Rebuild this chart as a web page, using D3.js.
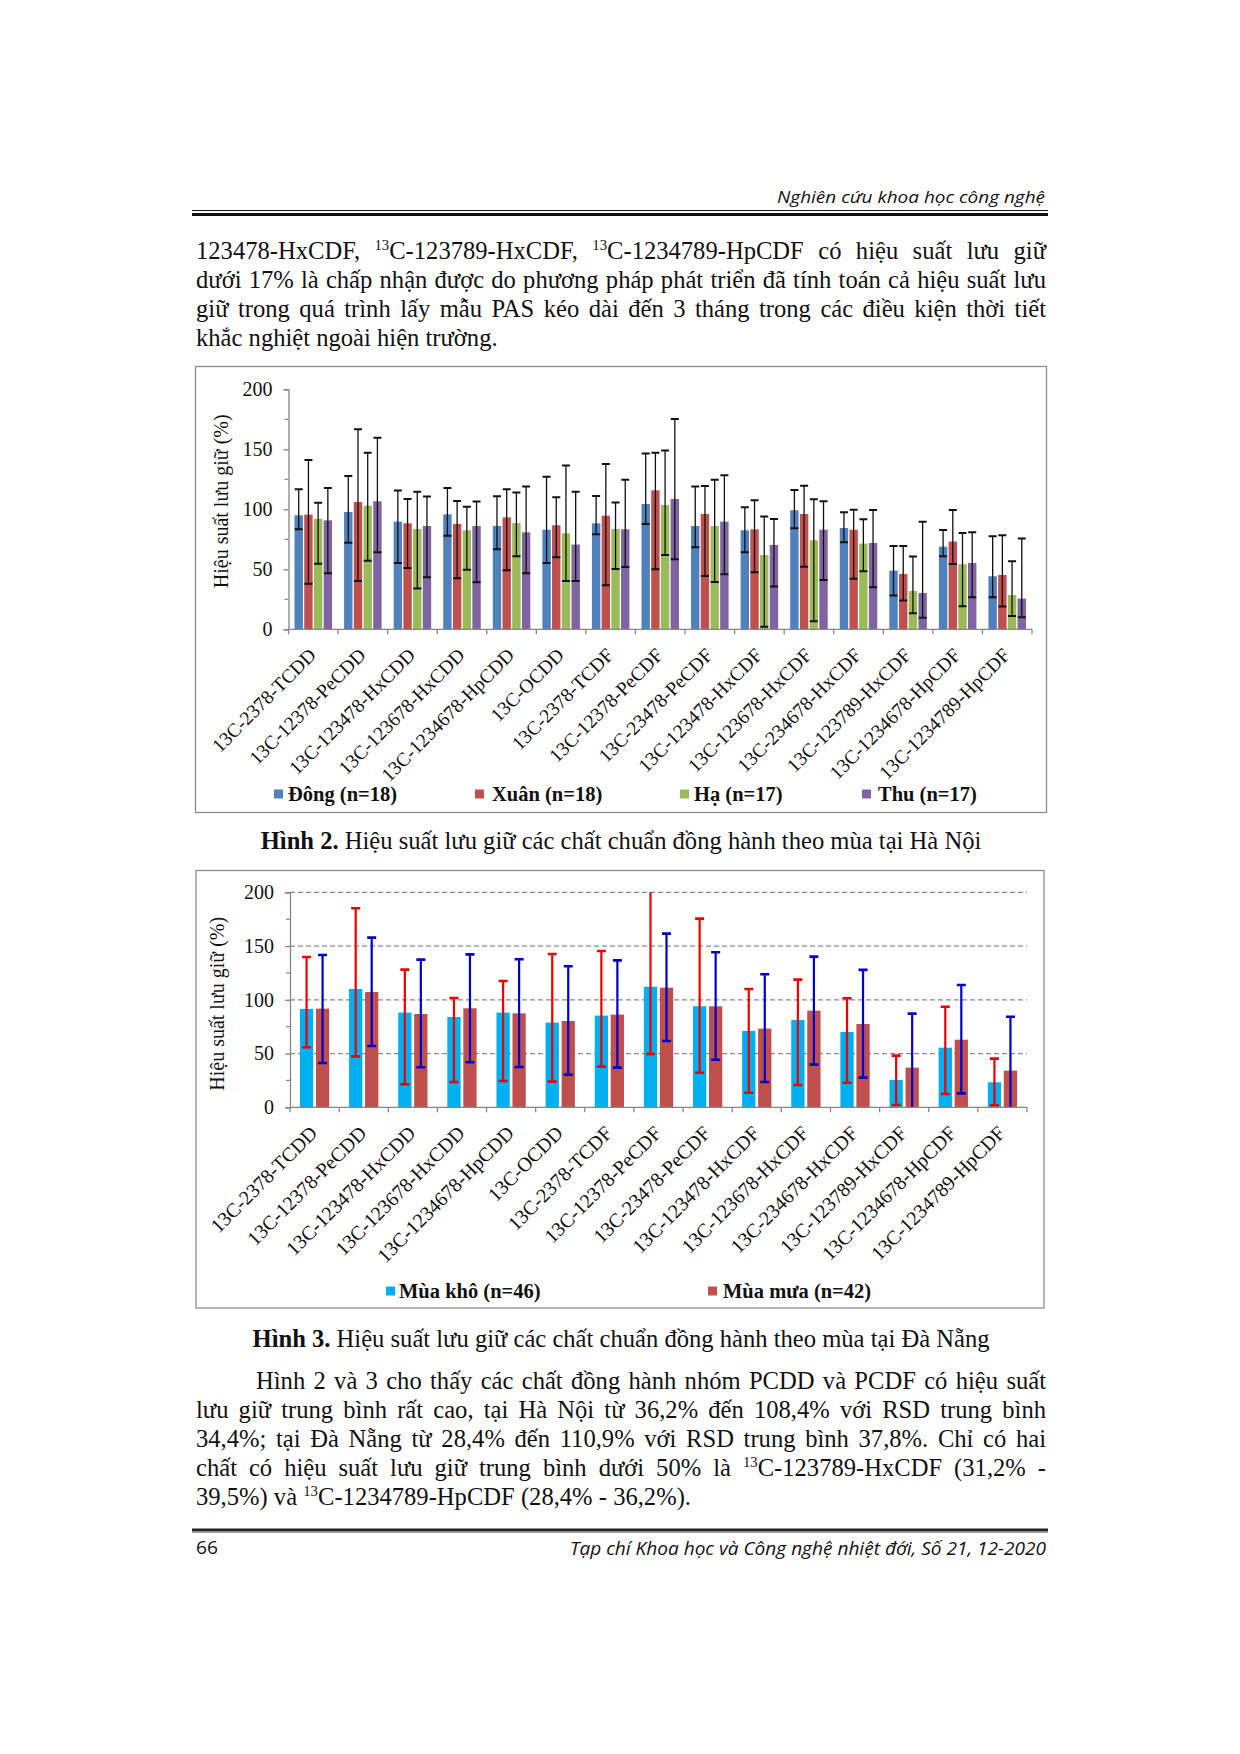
<!DOCTYPE html>
<html><head><meta charset="utf-8">
<script src="https://cdn.jsdelivr.net/npm/d3@7"></script>
<style>body{margin:0;background:#fff}svg{display:block}</style>
</head><body>
<svg id="page" width="1240" height="1754"></svg>
<script>
// ---------------- DATA ----------------
const categories = ["13C-2378-TCDD","13C-12378-PeCDD","13C-123478-HxCDD","13C-123678-HxCDD","13C-1234678-HpCDD","13C-OCDD","13C-2378-TCDF","13C-12378-PeCDF","13C-23478-PeCDF","13C-123478-HxCDF","13C-123678-HxCDF","13C-234678-HxCDF","13C-123789-HxCDF","13C-1234678-HpCDF","13C-1234789-HpCDF"];
const yTicks = [0, 50, 100, 150, 200];
const yMinorTicks = [25, 75, 125, 175];

// Hình 2 – Hà Nội (four seasons)
const seasonNames = ["Đông (n=18)", "Xuân (n=18)", "Hạ (n=17)", "Thu (n=17)"];
const dong     = [95, 97.8, 89.7, 95.8, 86.1, 83, 88.3, 104.4, 86.1, 82.5, 99.2, 84.4, 48.9, 68.9, 44.2];
const dongHigh = [116.7, 127.8, 115.6, 117.8, 110.8, 127.2, 111.1, 146.4, 118.9, 101.7, 116.1, 97.5, 69.4, 82.8, 77.5];
const dongLow  = [83.3, 72.2, 55.3, 78, 66.7, 55.3, 79.2, 87.8, 68.3, 64.2, 84.2, 72.5, 28.1, 60.8, 26.7];
const xuan     = [95.6, 106.1, 88.3, 87.8, 93.3, 86.7, 94.7, 115.8, 96.1, 83.3, 96.1, 83, 46.1, 73.1, 45.3];
const xuanHigh = [141, 166.7, 108.6, 107, 116.7, 110, 137.8, 147.2, 119.4, 107.5, 119.7, 99.7, 69.4, 99.4, 78.3];
const xuanLow  = [38, 40.3, 51.1, 42.5, 49.2, 60, 36.7, 50, 44.4, 47.5, 52.2, 42.2, 23.9, 54.4, 18.9];
const ha       = [92, 103, 83.6, 82.5, 88.6, 80, 83.6, 103.6, 86.1, 61.9, 74.2, 71.4, 31.9, 54.2, 28.6];
const haHigh   = [105.5, 147.2, 114.7, 102.2, 113.9, 136.4, 105.6, 148.9, 124.7, 93.9, 108.3, 91.7, 60.6, 80.3, 56.7];
const haLow    = [54.7, 57.2, 33.9, 49.7, 60.8, 40.3, 50.3, 61.9, 39.4, 2.2, 6.7, 48.3, 13.3, 19.2, 11.1];
const thu      = [90.8, 106.7, 86.1, 86.1, 80.8, 70.6, 83.3, 108.6, 89.7, 70.3, 83, 71.9, 30.3, 55.3, 25.6];
const thuHigh  = [117.8, 159.7, 110.6, 106.4, 118.9, 114.7, 124.7, 175.3, 128.3, 91.9, 106.7, 99.4, 89.7, 80.8, 75.6];
const thuLow   = [46.7, 64.2, 43.3, 39.2, 46.7, 40.3, 52, 58.3, 45.8, 35.6, 41.1, 35, 9.7, 26.7, 10];

// Hình 3 – Đà Nẵng (dry / rainy season)
const dnNames = ["Mùa khô (n=46)", "Mùa mưa (n=42)"];
const kho     = [91.5, 110.1, 88.1, 84, 88.1, 78.8, 85.3, 112.2, 94, 71, 81.2, 70.1, 25.4, 55.5, 23.3];
const khoHigh = [139.8, 185.1, 128.1, 101.7, 117.5, 142.6, 145.4, 212, 175.5, 110.1, 118.8, 101.4, 48.1, 93.6, 45.3];
const khoLow  = [55.8, 47.4, 21.4, 23.6, 24.5, 23.9, 37.8, 49.6, 32.2, 13.6, 20.8, 22.9, 2.2, 12.4, 1.9];
const mua     = [91.8, 107.3, 86.8, 92.1, 87.4, 80.3, 86.2, 111.3, 94, 73.2, 89.9, 77.5, 36.9, 62.9, 34.1];
const muaHigh = [141.7, 157.8, 137.4, 142.3, 137.7, 131.2, 136.7, 161.6, 144.2, 123.7, 140.2, 127.8, 87.1, 113.8, 84.3];
const muaLow  = [41.2, 57, 37.2, 41.9, 37.5, 30.4, 36.9, 61.7, 44.3, 23.6, 39.7, 27.6, -13, 13, -16];

// Text
const headerText = "Nghiên cứu khoa học công nghệ";
const footerLeft = "66";
const footerRight = "Tạp chí Khoa học và Công nghệ nhiệt đới, Số 21, 12-2020";
const yTitle = "Hiệu suất lưu giữ (%)";
const para1 = [
  "123478-HxCDF, ^13^C-123789-HxCDF, ^13^C-1234789-HpCDF có hiệu suất lưu giữ",
  "dưới 17% là chấp nhận được do phương pháp phát triển đã tính toán cả hiệu suất lưu",
  "giữ trong quá trình lấy mẫu PAS kéo dài đến 3 tháng trong các điều kiện thời tiết",
  "khắc nghiệt ngoài hiện trường."
];
const caption2 = ["Hình 2.", " Hiệu suất lưu giữ các chất chuẩn đồng hành theo mùa tại Hà Nội"];
const caption3 = ["Hình 3.", " Hiệu suất lưu giữ các chất chuẩn đồng hành theo mùa tại Đà Nẵng"];
const para2 = [
  "Hình 2 và 3 cho thấy các chất đồng hành nhóm PCDD và PCDF có hiệu suất",
  "lưu giữ trung bình rất cao, tại Hà Nội từ 36,2% đến 108,4% với RSD trung bình",
  "34,4%; tại Đà Nẵng từ 28,4% đến 110,9% với RSD trung bình 37,8%. Chỉ có hai",
  "chất có hiệu suất lưu giữ trung bình dưới 50% là ^13^C-123789-HxCDF (31,2% -",
  "39,5%) và ^13^C-1234789-HpCDF (28,4% - 36,2%)."
];

// ---------------- DRAW ----------------
const SERIF = "'Liberation Serif','Times New Roman',serif";
const svg = d3.select("#page");
svg.append("rect").attr("width", 1240).attr("height", 1754).attr("fill", "#fff");

// header
svg.append("text").attr("x", 1045).attr("y", 203).attr("text-anchor", "end")
  .attr("font-family", "'Open Sans',sans-serif").attr("font-style", "italic").attr("font-size", 17)
  .attr("textLength", 268).attr("lengthAdjust", "spacingAndGlyphs").attr("fill", "#111").text(headerText);
svg.append("line").attr("x1", 192).attr("x2", 1048).attr("y1", 210.5).attr("y2", 210.5).attr("stroke", "#111").attr("stroke-width", 1.2);
svg.append("line").attr("x1", 192).attr("x2", 1048).attr("y1", 214.5).attr("y2", 214.5).attr("stroke", "#111").attr("stroke-width", 3);

// footer
svg.append("line").attr("x1", 192).attr("x2", 1048).attr("y1", 1530).attr("y2", 1530).attr("stroke", "#222").attr("stroke-width", 3);
svg.append("line").attr("x1", 192).attr("x2", 1048).attr("y1", 1532.5).attr("y2", 1532.5).attr("stroke", "#999").attr("stroke-width", 1);
svg.append("text").attr("x", 196).attr("y", 1554).attr("font-family", "'Open Sans',sans-serif")
  .attr("font-size", 18).attr("fill", "#111").attr("textLength", 22).attr("lengthAdjust", "spacingAndGlyphs").text(footerLeft);
svg.append("text").attr("x", 1046).attr("y", 1555).attr("text-anchor", "end").attr("font-family", "'Open Sans',sans-serif")
  .attr("font-style", "italic").attr("font-size", 18).attr("fill", "#111")
  .attr("textLength", 476).attr("lengthAdjust", "spacingAndGlyphs").text(footerRight);

// justified text helper
function drawLine(g, str, x0, x1, y, justify, size) {
  const words = str.split(" ");
  const nodes = words.map(w => {
    const t = g.append("text").attr("y", y).attr("font-size", size).attr("font-family", SERIF).attr("fill", "#111");
    const parts = w.split(/\^(\d+)\^/);
    let sup = false;
    parts.forEach((p, i) => {
      if (i % 2 === 1) {
        t.append("tspan").attr("font-size", size * 0.6).attr("dy", -size * 0.38).text(p);
        sup = true;
      } else if (p) {
        const s = t.append("tspan").text(p);
        if (sup) { s.attr("dy", size * 0.38); sup = false; }
      }
    });
    return t;
  });
  const widths = nodes.map(t => t.node().getComputedTextLength());
  const total = d3.sum(widths);
  const gap = justify && nodes.length > 1 ? (x1 - x0 - total) / (nodes.length - 1) : size * 0.25;
  let x = x0;
  nodes.forEach((t, i) => { t.attr("x", x); t.selectAll("tspan").filter((d, j) => j === 0).attr("x", x); x += widths[i] + gap; });
}
const BODY = 24.6;
const tg = svg.append("g");
const p1y = [259, 288, 317, 346];
para1.forEach((l, i) => drawLine(tg, l, 196, 1046, p1y[i], i < para1.length - 1, BODY));
const p2y = [1389, 1418, 1447, 1476, 1505];
para2.forEach((l, i) => drawLine(tg, l, i === 0 ? 256 : 196, 1046, p2y[i], i < para2.length - 1, BODY));

function caption(parts, y) {
  const t = svg.append("text").attr("x", 621).attr("y", y).attr("text-anchor", "middle")
    .attr("font-family", SERIF).attr("font-size", BODY).attr("fill", "#111");
  t.append("tspan").attr("font-weight", "bold").text(parts[0]);
  t.append("tspan").text(parts[1]);
}
caption(caption2, 849);
caption(caption3, 1347);

// chart helper
function drawChart(cfg) {
  const g = svg.append("g");
  g.append("rect").attr("x", cfg.frame[0]).attr("y", cfg.frame[1]).attr("width", cfg.frame[2]).attr("height", cfg.frame[3])
    .attr("fill", "#fff").attr("stroke", "#8c8c8c").attr("stroke-width", 1.3);
  const x = d3.scaleBand().domain(categories).range([cfg.x0, cfg.x1]).padding(0);
  const y = d3.scaleLinear().domain([0, 200]).range([cfg.yBottom, cfg.yTop]);
  const inner = d3.scaleBand().domain(d3.range(cfg.series.length)).range([0, x.bandwidth()])
    .paddingInner(cfg.padIn).paddingOuter(cfg.padOut);

  if (cfg.grid) {
    g.append("g").selectAll("line").data(yTicks.filter(v => v > 0)).join("line")
      .attr("x1", cfg.x0).attr("x2", cfg.x1).attr("y1", d => y(d)).attr("y2", d => y(d))
      .attr("stroke", "#8a8a8a").attr("stroke-width", 1.3).attr("stroke-dasharray", "5,3");
  }
  const clipId = "clip" + cfg.id;
  g.append("clipPath").attr("id", clipId).append("rect")
    .attr("x", cfg.x0).attr("y", cfg.yTop).attr("width", cfg.x1 - cfg.x0).attr("height", cfg.yBottom - cfg.yTop);
  const plot = g.append("g").attr("clip-path", `url(#${clipId})`);

  cfg.series.forEach((s, si) => {
    plot.append("g").selectAll("rect").data(s.values).join("rect")
      .attr("x", (d, i) => x(categories[i]) + inner(si))
      .attr("y", d => y(d)).attr("width", inner.bandwidth()).attr("height", d => y(0) - y(d))
      .attr("fill", s.color);
  });
  cfg.series.forEach((s, si) => {
    const eg = plot.append("g").attr("stroke", s.errColor);
    s.values.forEach((v, i) => {
      const cx = x(categories[i]) + inner(si) + inner.bandwidth() / 2;
      const hw = cfg.capW / 2;
      eg.append("line").attr("x1", cx).attr("x2", cx).attr("y1", y(s.high[i])).attr("y2", y(s.low[i])).attr("stroke-width", cfg.errW);
      eg.append("line").attr("x1", cx - hw).attr("x2", cx + hw).attr("y1", y(s.high[i])).attr("y2", y(s.high[i])).attr("stroke-width", cfg.capSW);
      eg.append("line").attr("x1", cx - hw).attr("x2", cx + hw).attr("y1", y(s.low[i])).attr("y2", y(s.low[i])).attr("stroke-width", cfg.capSW);
    });
  });

  // y axis
  const yAxis = d3.axisLeft(y).tickValues(yTicks).tickSize(5).tickPadding(11).tickFormat(d3.format("d"));
  const ya = g.append("g").attr("transform", `translate(${cfg.x0},0)`).call(yAxis);
  ya.select(".domain").attr("stroke", "#868686").attr("stroke-width", 1.3);
  ya.selectAll(".tick line").attr("stroke", "#868686").attr("stroke-width", 1.3);
  ya.selectAll("text").attr("font-family", SERIF).attr("font-size", 20).attr("fill", "#111");
  g.append("g").selectAll("line").data(yMinorTicks).join("line")
    .attr("x1", cfg.x0 - 4).attr("x2", cfg.x0).attr("y1", d => y(d)).attr("y2", d => y(d))
    .attr("stroke", "#868686").attr("stroke-width", 1.2);

  // x axis
  const xa = g.append("g").attr("transform", `translate(0,${cfg.yBottom})`);
  xa.append("line").attr("x1", cfg.x0).attr("x2", cfg.x1).attr("stroke", "#868686").attr("stroke-width", 1.3);
  xa.selectAll("line.tk").data(d3.range(categories.length + 1)).join("line").attr("class", "tk")
    .attr("x1", i => cfg.x0 + i * x.step()).attr("x2", i => cfg.x0 + i * x.step()).attr("y1", 0).attr("y2", 5)
    .attr("stroke", "#868686").attr("stroke-width", 1.3);
  xa.selectAll("text").data(categories).join("text")
    .attr("transform", d => `translate(${x(d) + x.bandwidth() / 2 + cfg.lblDx},${cfg.lblDy}) rotate(-45)`)
    .attr("text-anchor", "end").attr("font-family", SERIF).attr("font-size", cfg.lblSize).attr("fill", "#111").text(d => d);

  // y title
  g.append("text").attr("transform", `translate(${cfg.titleX},${(cfg.yTop + cfg.yBottom) / 2 + cfg.titleDy}) rotate(-90)`)
    .attr("text-anchor", "middle").attr("font-family", SERIF).attr("font-size", 20).attr("fill", "#111").text(yTitle);

  // legend
  cfg.series.forEach((s, si) => {
    g.append("rect").attr("x", cfg.legend[si][0]).attr("y", cfg.legendY - 4.5).attr("width", 9).attr("height", 9).attr("fill", s.color);
    g.append("text").attr("x", cfg.legend[si][1]).attr("y", cfg.legendY + 7).attr("font-family", SERIF)
      .attr("font-weight", "bold").attr("font-size", 20.5).attr("fill", "#111").text(s.name);
  });
}

drawChart({
  id: 1, frame: [195.5, 366.5, 851, 446], x0: 288.5, x1: 1032, yBottom: 629.3, yTop: 389.3,
  padIn: 0.134, padOut: 0.62, capW: 8, errW: 1.3, capSW: 2, grid: false,
  lblDx: 4, lblDy: 27, lblSize: 19.5, titleX: 228, titleDy: -8,
  legendY: 794, legend: [[274, 288], [475, 492], [680, 694], [862, 878]],
  series: [
    { name: seasonNames[0], values: dong, high: dongHigh, low: dongLow, color: "#4f81bd", errColor: "#111" },
    { name: seasonNames[1], values: xuan, high: xuanHigh, low: xuanLow, color: "#c0504d", errColor: "#111" },
    { name: seasonNames[2], values: ha, high: haHigh, low: haLow, color: "#9bbb59", errColor: "#111" },
    { name: seasonNames[3], values: thu, high: thuHigh, low: thuLow, color: "#8064a2", errColor: "#111" }
  ]
});

drawChart({
  id: 2, frame: [196, 870.5, 848, 437.5], x0: 290, x1: 1027, yBottom: 1107.3, yTop: 892.3,
  padIn: 0.17, padOut: 0.62, capW: 9, errW: 2.2, capSW: 2.6, grid: true,
  lblDx: 4, lblDy: 27, lblSize: 20, titleX: 224, titleDy: 4,
  legendY: 1291, legend: [[386, 399], [708, 723]],
  series: [
    { name: dnNames[0], values: kho, high: khoHigh, low: khoLow, color: "#00b0f0", errColor: "#ee0000" },
    { name: dnNames[1], values: mua, high: muaHigh, low: muaLow, color: "#c0504d", errColor: "#0000cc" }
  ]
});
</script>
</body></html>
